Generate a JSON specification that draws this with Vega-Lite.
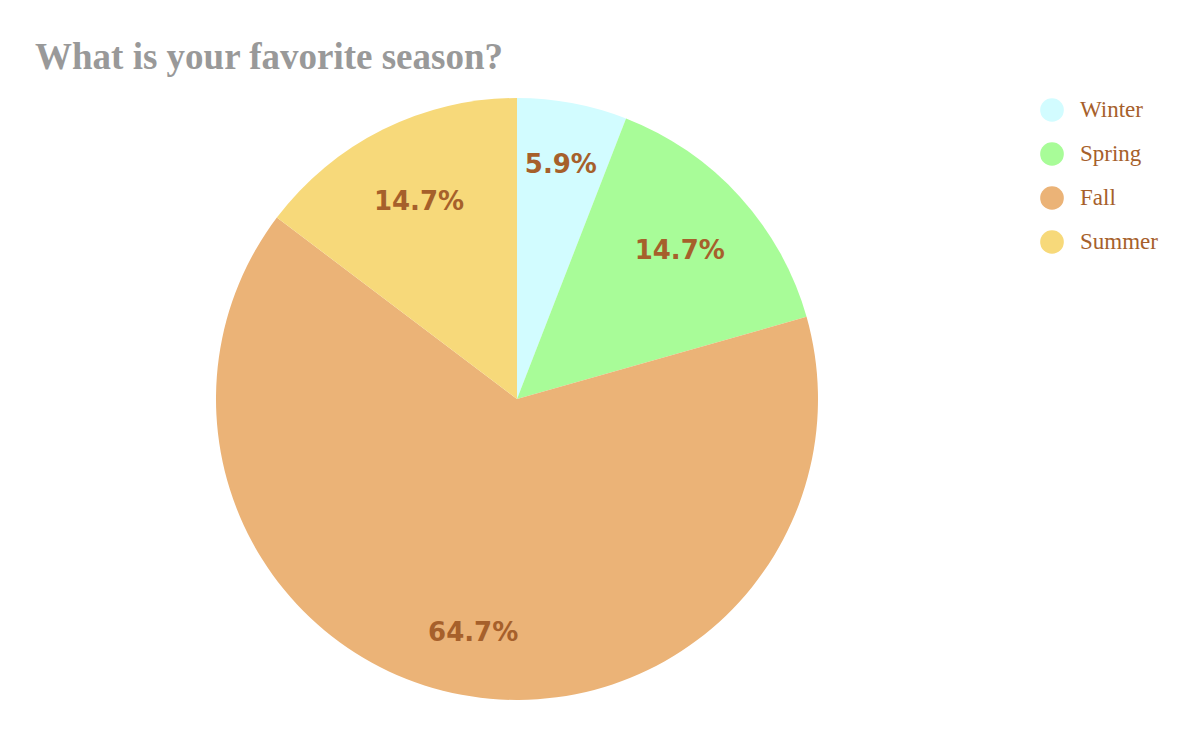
{
  "$schema": "https://vega.github.io/schema/vega-lite/v6.json",
  "autosize": {"type": "none"},
  "width": 1034,
  "height": 602,
  "padding": {"left": 0, "top": 98, "right": 160, "bottom": 34},
  "background": "white",
  "title": {
    "text": "What is your favorite season?",
    "anchor": "start",
    "baseline": "alphabetic",
    "offset": -8,
    "dx": 35,
    "font": "Liberation Serif",
    "fontSize": 37,
    "fontWeight": "bold",
    "color": "#999999"
  },
  "data": {
    "values": [
      {"season": "Winter", "pct": 5.9, "label": "5.9%", "idx": 1},
      {"season": "Spring", "pct": 14.7, "label": "14.7%", "idx": 2},
      {"season": "Fall", "pct": 64.7, "label": "64.7%", "idx": 3},
      {"season": "Summer", "pct": 14.7, "label": "14.7%", "idx": 4}
    ]
  },
  "encoding": {
    "theta": {"field": "pct", "type": "quantitative", "stack": true},
    "order": {"field": "idx", "type": "quantitative"},
    "color": {
      "field": "season",
      "type": "nominal",
      "sort": ["Winter", "Spring", "Fall", "Summer"],
      "scale": {
        "domain": ["Winter", "Spring", "Fall", "Summer"],
        "range": ["#d2fcff", "#a8fc98", "#ebb377", "#f7d97a"]
      },
      "legend": {
        "title": null,
        "orient": "right",
        "offset": 6,
        "padding": 0,
        "symbolType": "circle",
        "symbolSize": 560,
        "symbolStrokeWidth": 0,
        "symbolOpacity": 1,
        "rowPadding": 20,
        "labelOffset": 16,
        "labelFont": "Liberation Serif",
        "labelFontSize": 23,
        "labelColor": "#a6602b",
        "labelLimit": 300
      }
    }
  },
  "layer": [
    {"mark": {"type": "arc", "stroke": null}},
    {
      "mark": {
        "type": "text",
        "radius": 238,
        "font": "DejaVu Sans",
        "fontWeight": "bold",
        "fontSize": 26,
        "align": "center",
        "baseline": "middle"
      },
      "encoding": {
        "text": {
          "condition": {"test": "datum.season === 'Winter' || datum.season === 'Fall'", "field": "label", "type": "nominal"},
          "value": ""
        },
        "color": {"value": "#a6602b"}
      }
    },
    {
      "mark": {
        "type": "text",
        "radius": 220,
        "font": "DejaVu Sans",
        "fontWeight": "bold",
        "fontSize": 26,
        "align": "center",
        "baseline": "middle"
      },
      "encoding": {
        "text": {
          "condition": {"test": "datum.season === 'Spring' || datum.season === 'Summer'", "field": "label", "type": "nominal"},
          "value": ""
        },
        "color": {"value": "#a6602b"}
      }
    }
  ],
  "config": {"view": {"stroke": null}}
}
